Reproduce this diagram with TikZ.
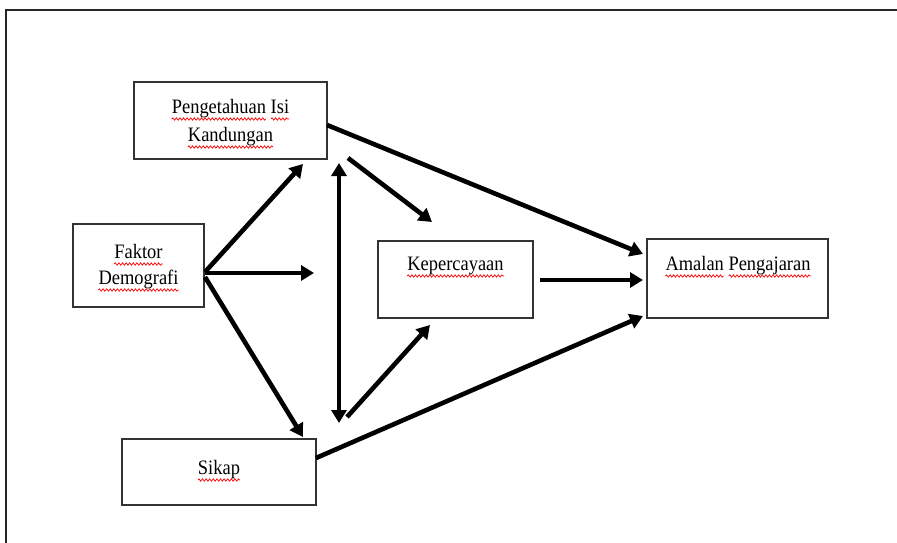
\documentclass[tikz,border=0pt]{standalone}
\usepackage{fontspec}
\setmainfont{Liberation Serif}[FakeStretch=0.9]
\usetikzlibrary{arrows.meta,decorations.pathmorphing}
\newlength\wPa
\newlength\wPb
\newlength\wAa
\newlength\wAb
\newcommand\lblfont{\fontsize{20.5}{27}\selectfont}
\begin{document}
\settowidth\wPa{\lblfont Pengetahuan}%
\settowidth\wPb{\lblfont Isi}%
\settowidth\wAa{\lblfont Amalan}%
\settowidth\wAb{\lblfont Pengajaran}%
\begin{tikzpicture}[x=1pt,y=-1pt,
  box/.style={draw=black!80,line width=1.4pt,inner sep=0pt},
  lbl/.style={font=\lblfont,anchor=base,inner sep=0pt},
  arr/.style={line width=4.6pt,-{Triangle[length=13pt,width=15pt]}},
  darr/.style={line width=4.6pt,{Triangle[length=13pt,width=15pt]}-{Triangle[length=13pt,width=15pt]}},
  sq/.style={draw=red,line width=0.7pt,decorate,decoration={snake,amplitude=1.2pt,segment length=3.6pt}}]
\useasboundingbox (0,0) rectangle (897,543);
\draw[line width=2pt,black!85] (6,543) -- (6,10) -- (897,10);
% boxes
\node[box,minimum width=193pt,minimum height=77pt] (pk) at (230.5,120.5) {};
\node[box,minimum width=131pt,minimum height=83pt] (fd) at (138.5,265.5) {};
\node[box,minimum width=155pt,minimum height=77pt] (kp) at (455.5,279.5) {};
\node[box,minimum width=181pt,minimum height=79pt] (ap) at (737.5,278.5) {};
\node[box,minimum width=194pt,minimum height=66pt] (sk) at (219,472) {};
% labels
\node[lbl] (pk1) at (230.5,113) {Pengetahuan Isi};
\node[lbl] (pk2) at (230.5,141) {Kandungan};
\node[lbl] (fd1) at (138.5,258) {Faktor};
\node[lbl] (fd2) at (138.5,284) {Demografi};
\node[lbl] (kp1) at (455.5,270) {Kepercayaan};
\node[lbl] (ap1) at (738,270) {Amalan Pengajaran};
\node[lbl] (sk1) at (219,474) {Sikap};
% spelling squiggles
\path[sq] ([yshift=-6pt]pk1.base west) -- ([xshift=\wPa,yshift=-6pt]pk1.base west);
\path[sq] ([xshift=-\wPb,yshift=-6pt]pk1.base east) -- ([yshift=-6pt]pk1.base east);
\path[sq] ([yshift=-6pt]pk2.base west) -- ([yshift=-6pt]pk2.base east);
\path[sq] ([yshift=-6pt]fd1.base west) -- ([yshift=-6pt]fd1.base east);
\path[sq] ([yshift=-6pt]fd2.base west) -- ([yshift=-6pt]fd2.base east);
\path[sq] ([yshift=-6pt]kp1.base west) -- ([yshift=-6pt]kp1.base east);
\path[sq] ([yshift=-6pt]ap1.base west) -- ([xshift=\wAa,yshift=-6pt]ap1.base west);
\path[sq] ([xshift=-\wAb,yshift=-6pt]ap1.base east) -- ([yshift=-6pt]ap1.base east);
\path[sq] ([yshift=-6pt]sk1.base west) -- ([yshift=-6pt]sk1.base east);
% connector ends
\coordinate (fo1) at (205,272);
\coordinate (fo2) at (205,273);
\coordinate (fo3) at (205,277);
\coordinate (t1) at (303,164);
\coordinate (t2) at (314,273);
\coordinate (t3) at (303,437);
\coordinate (po) at (327,125);
\coordinate (ai1) at (643,254);
\coordinate (vt) at (339,163);
\coordinate (vb) at (339,423);
\coordinate (d1s) at (348,158);
\coordinate (d1e) at (432,222);
\coordinate (d2s) at (347,417);
\coordinate (d2e) at (430,325);
\coordinate (ko) at (540,280);
\coordinate (ai2) at (643,280);
\coordinate (so) at (316,458);
\coordinate (ai3) at (643,316);
% connectors
\draw[arr] (fo1) -- (t1);
\draw[arr] (fo2) -- (t2);
\draw[arr] (fo3) -- (t3);
\draw[arr] (po) -- (ai1);
\draw[darr] (vt) -- (vb);
\draw[arr] (d1s) -- (d1e);
\draw[arr] (d2s) -- (d2e);
\draw[arr] (ko) -- (ai2);
\draw[arr] (so) -- (ai3);
\end{tikzpicture}
\end{document}
